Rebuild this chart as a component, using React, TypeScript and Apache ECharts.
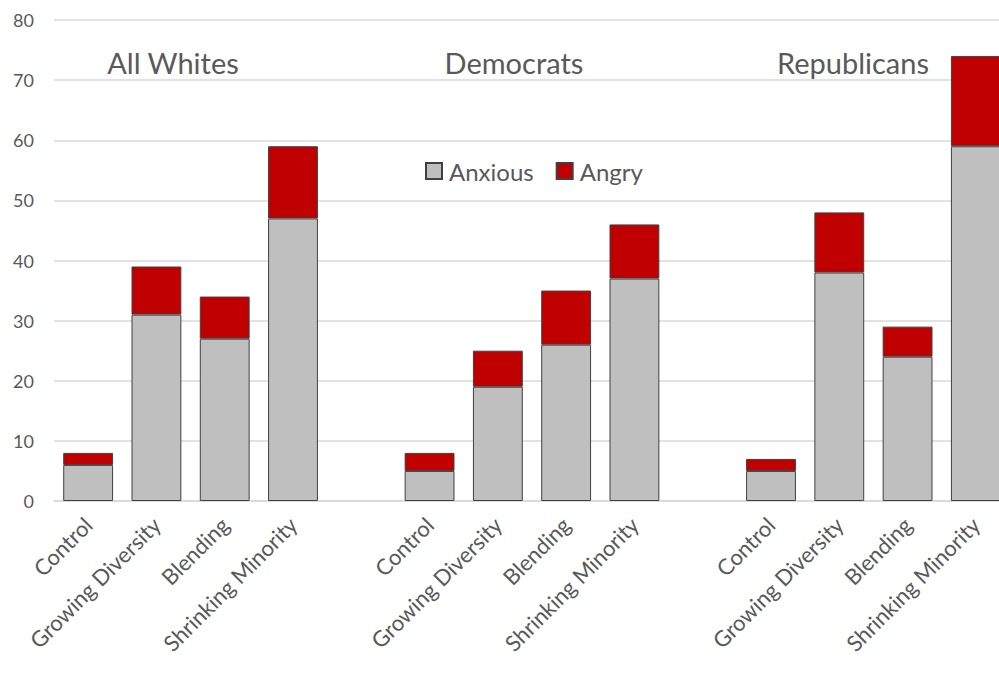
import React, { useEffect, useRef } from "react";
import * as echarts from "echarts";

const categories = [
  "Control", "Growing Diversity", "Blending", "Shrinking Minority", " ",
  "Control", "Growing Diversity", "Blending", "Shrinking Minority", "  ",
  "Control", "Growing Diversity", "Blending", "Shrinking Minority",
];
const anxious = [6, 31, 27, 47, null, 5, 19, 26, 37, null, 5, 38, 24, 59];
const angry = [2, 8, 7, 12, null, 3, 6, 9, 9, null, 2, 10, 5, 15];
const groupTitles = ["All Whites", "Democrats", "Republicans"];
const yTicks = [0, 10, 20, 30, 40, 50, 60, 70, 80];

const FONT = "Lato";
const TXT = "#595959";

export default function App() {
  const ref = useRef<HTMLDivElement>(null);
  useEffect(() => {
    const chart = echarts.init(ref.current!, null, { renderer: "svg" });
    const titlePos = [168, 509, 848];
    chart.setOption({
      animation: false,
      backgroundColor: "#ffffff",
      textStyle: { fontFamily: FONT },
      title: groupTitles.map((t, i) => ({
        text: t,
        left: titlePos[i],
        top: 43,
        textAlign: "center",
        textStyle: { fontFamily: FONT, fontSize: 29, fontWeight: "normal", color: TXT },
      })),
      legend: {
        left: 420,
        top: 154,
        icon: "rect",
        itemWidth: 16,
        itemHeight: 16,
        itemGap: 22,
        textStyle: { fontFamily: FONT, fontSize: 24, color: TXT, padding: [0, 0, 0, 2] },
        data: ["Anxious", "Angry"],
      },
      grid: { left: 54, right: 0, top: 20, bottom: 174, containLabel: false },
      xAxis: {
        type: "category",
        data: categories,
        axisLine: { show: true, lineStyle: { color: "#D9D9D9", width: 1.5 } },
        axisTick: { show: false },
        axisLabel: {
          interval: 0,
          rotate: 45,
          margin: 20,
          fontFamily: FONT,
          fontSize: 22,
          color: TXT,
        },
      },
      yAxis: {
        type: "value",
        min: yTicks[0],
        max: yTicks[yTicks.length - 1],
        interval: 10,
        axisLine: { show: false },
        axisTick: { show: false },
        axisLabel: { fontFamily: FONT, fontSize: 18, color: TXT, margin: 20 },
        splitLine: { lineStyle: { color: "#D9D9D9", width: 1.5 } },
      },
      series: [
        {
          name: "Anxious",
          type: "bar",
          stack: "s",
          data: anxious,
          barCategoryGap: "27%",
          itemStyle: { color: "#BFBFBF", borderColor: "#404040", borderWidth: 1 },
        },
        {
          name: "Angry",
          type: "bar",
          stack: "s",
          data: angry,
          itemStyle: { color: "#C00000", borderColor: "#404040", borderWidth: 1 },
        },
      ],
    });
    return () => chart.dispose();
  }, []);
  return (
    <div
      style={{ position: "fixed", left: 0, top: 0, width: 999, height: 675, overflow: "hidden", background: "#fff" }}
    >
      <div ref={ref} style={{ width: 1010, height: 675 }} />
    </div>
  );
}
